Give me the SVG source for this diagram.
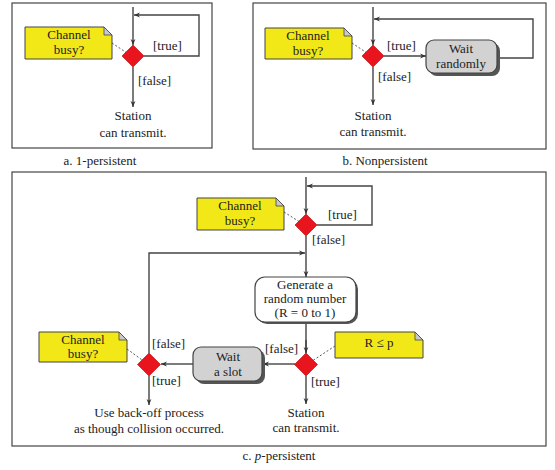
<svg xmlns="http://www.w3.org/2000/svg" width="555" height="470" viewBox="0 0 555 470">
<defs>
<marker id="ah" viewBox="0 0 10 10" refX="10" refY="5" markerWidth="6" markerHeight="6" orient="auto-start-reverse" markerUnits="userSpaceOnUse">
<path d="M0,1 L10,5 L0,9 L3,5 Z" fill="#333"/>
</marker>
<g id="note-shape">
</g>
</defs>
<style>
text{font-family:"Liberation Serif","Times New Roman",serif;font-size:13px;fill:#222}
.c{text-anchor:middle}
.frame{fill:#fff;stroke:#444;stroke-width:1.2}
.ln{fill:none;stroke:#444;stroke-width:1.4}
.arr{fill:none;stroke:#444;stroke-width:1.4;marker-end:url(#ah)}
.dot{fill:none;stroke:#444;stroke-width:0.9;stroke-dasharray:2 2}
.note{fill:#f2e817;stroke:#444;stroke-width:1}
.fold{fill:#c8c8c8;stroke:#444;stroke-width:0.8}
.dia{fill:#e8141e;stroke:#b00;stroke-width:0.6}
.shadow{fill:#555}
.gbox{fill:#d2d2d2;stroke:#444;stroke-width:1.2}
.wbox{fill:#fff;stroke:#444;stroke-width:1.2}
</style>

<!-- Frames -->
<rect class="frame" x="12" y="3" width="200" height="145"/>
<rect class="frame" x="253" y="3" width="293" height="146"/>
<rect class="frame" x="12" y="172" width="534" height="274"/>

<!-- Captions -->
<text x="100" y="165" class="c">a. 1-persistent</text>
<text x="385" y="165" class="c">b. Nonpersistent</text>
<text x="279" y="460" class="c">c. <tspan font-style="italic">p</tspan>-persistent</text>

<!-- Connectors -->
<g id="connectors">
<!-- panel a -->
<line class="arr" x1="133" y1="7" x2="133" y2="45"/>
<polyline class="arr" points="144,56 199,56 199,15 134,15"/>
<line class="arr" x1="133" y1="67" x2="133" y2="107"/>
<line class="dot" x1="112" y1="43" x2="133" y2="57"/>
<!-- panel b -->
<line class="arr" x1="373" y1="7" x2="373" y2="45"/>
<line class="arr" x1="384" y1="56" x2="426" y2="56"/>
<polyline class="arr" points="497,58 533,58 533,19 374,19"/>
<line class="arr" x1="373" y1="67" x2="373" y2="105"/>
<line class="dot" x1="352" y1="43" x2="373" y2="57"/>
<!-- panel c -->
<line class="arr" x1="306" y1="177" x2="306" y2="214"/>
<polyline class="arr" points="317,225 372,225 372,186 307,186"/>
<line class="arr" x1="306" y1="236" x2="306" y2="277"/>
<line class="ln" x1="306" y1="322" x2="306" y2="353"/>
<line class="arr" x1="306" y1="340" x2="306" y2="353"/>
<line class="arr" x1="295" y1="364" x2="263" y2="364"/>
<line class="arr" x1="193" y1="364" x2="161" y2="364"/>
<polyline class="arr" points="149,353 149,253 305,253"/>
<line class="arr" x1="306" y1="376" x2="306" y2="404"/>
<line class="arr" x1="149" y1="376" x2="149" y2="405"/>
<line class="dot" x1="284" y1="212" x2="306" y2="226"/>
<line class="dot" x1="127" y1="349" x2="149" y2="365"/>
<line class="dot" x1="335" y1="346" x2="306" y2="365"/>
</g>

<!-- Panel a nodes -->
<g id="a-note">
<path class="note" d="M25,27 H104 L112,35 V59 H25 Z"/>
<path class="fold" d="M104,27 V35 H112 Z"/>
<text x="69" y="39" class="c">Channel</text>
<text x="69" y="54" class="c">busy?</text>
</g>
<g id="a-decision"><path class="dia" d="M133,45 L144,56 L133,67 L122,56 Z"/></g>
<g id="a-labels">
<text x="153" y="50">[true]</text>
<text x="138" y="85">[false]</text>
</g>
<g id="a-end">
<text x="133" y="120" class="c">Station</text>
<text x="133" y="137" class="c">can transmit.</text>
</g>

<!-- Panel b nodes -->
<g id="b-note">
<path class="note" d="M265,28 H344 L352,36 V59 H265 Z"/>
<path class="fold" d="M344,28 V36 H352 Z"/>
<text x="308" y="40" class="c">Channel</text>
<text x="308" y="55" class="c">busy?</text>
</g>
<g id="b-decision"><path class="dia" d="M373,45 L384,56 L373,67 L362,56 Z"/></g>
<g id="b-wait">
<rect class="shadow" x="429" y="43" width="71" height="33" rx="8"/>
<rect class="gbox" x="426" y="40" width="71" height="33" rx="8"/>
<text x="461" y="53" class="c">Wait</text>
<text x="461" y="68" class="c">randomly</text>
</g>
<g id="b-labels">
<text x="387" y="50">[true]</text>
<text x="378" y="81">[false]</text>
</g>
<g id="b-end">
<text x="373" y="120" class="c">Station</text>
<text x="373" y="136" class="c">can transmit.</text>
</g>

<!-- Panel c nodes -->
<g id="c-note1">
<path class="note" d="M197,198 H276 L284,206 V230 H197 Z"/>
<path class="fold" d="M276,198 V206 H284 Z"/>
<text x="240" y="210" class="c">Channel</text>
<text x="240" y="225" class="c">busy?</text>
</g>
<g id="c-decision1"><path class="dia" d="M306,214 L317,225 L306,236 L295,225 Z"/></g>
<g id="c-labels1">
<text x="328" y="219">[true]</text>
<text x="312" y="244">[false]</text>
</g>
<g id="c-generate">
<rect class="shadow" x="257" y="279" width="101" height="45" rx="10"/>
<rect class="wbox" x="255" y="277" width="101" height="45" rx="10"/>
<text x="305" y="289" class="c">Generate a</text>
<text x="305" y="303" class="c">random number</text>
<text x="305" y="317" class="c">(R = 0 to 1)</text>
</g>
<g id="c-decision2"><path class="dia" d="M306,353 L317.5,364.5 L306,376 L294.5,364.5 Z"/></g>
<g id="c-note-rp">
<path class="note" d="M335,332 H415 L423,340 V358 H335 Z"/>
<path class="fold" d="M415,332 V340 H423 Z"/>
<text x="379" y="347" class="c">R ≤ p</text>
</g>
<g id="c-wait">
<rect class="shadow" x="196" y="350" width="69" height="34" rx="8"/>
<rect class="gbox" x="193" y="347" width="69" height="34" rx="8"/>
<text x="228" y="361" class="c">Wait</text>
<text x="228" y="376" class="c">a slot</text>
</g>
<g id="c-decision3"><path class="dia" d="M149,353 L160.5,364.5 L149,376 L137.5,364.5 Z"/></g>
<g id="c-note2">
<path class="note" d="M39,332 H119 L127,340 V362 H39 Z"/>
<path class="fold" d="M119,332 V340 H127 Z"/>
<text x="83" y="344" class="c">Channel</text>
<text x="83" y="358" class="c">busy?</text>
</g>
<g id="c-labels2">
<text x="265" y="353">[false]</text>
<text x="311" y="386">[true]</text>
<text x="152" y="348">[false]</text>
<text x="152" y="385">[true]</text>
</g>
<g id="c-end1">
<text x="306" y="417" class="c">Station</text>
<text x="306" y="432" class="c">can transmit.</text>
</g>
<g id="c-end2">
<text x="149" y="417" class="c">Use back-off process</text>
<text x="149" y="433" class="c">as though collision occurred.</text>
</g>
</svg>
